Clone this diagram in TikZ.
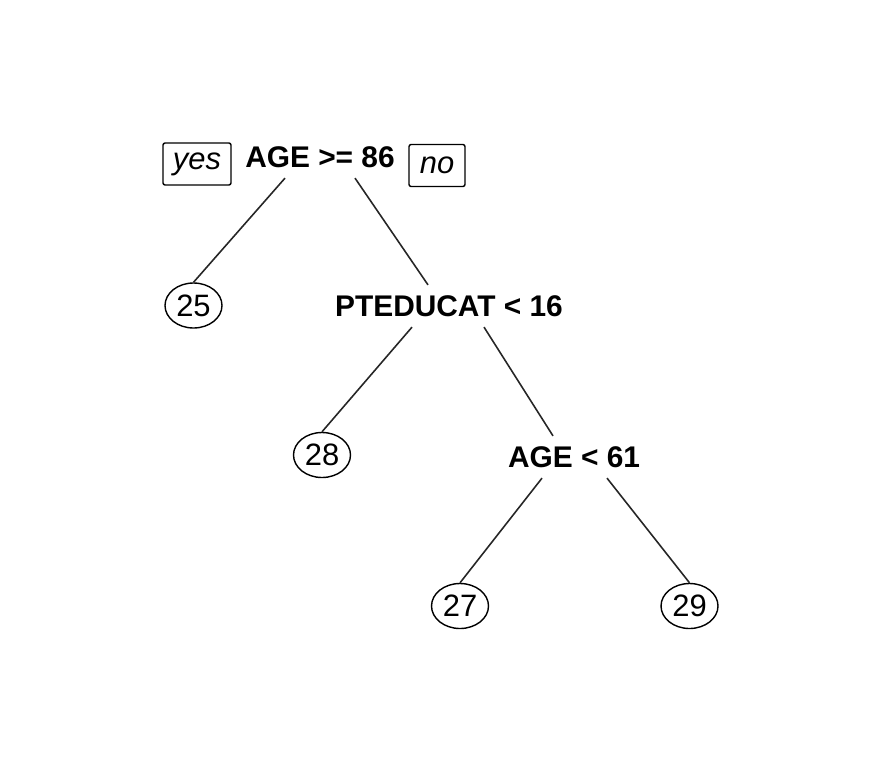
\documentclass[tikz,border=0pt]{standalone}
\usepackage{fontspec}
\setmainfont{Liberation Sans}
\usetikzlibrary{shapes.geometric}
\tikzset{
  split/.style={font=\fontsize{8.5}{10}\selectfont\bfseries,inner sep=2.8pt},
  leaf/.style={draw,ellipse,minimum width=5.7mm,minimum height=4.5mm,inner sep=0pt,
    font=\fontsize{8.8}{10}\selectfont},
  tag/.style={draw,rounded corners=0.6pt,minimum width=6.8mm,minimum height=4.2mm,
    inner sep=0pt,font=\fontsize{8.8}{10}\selectfont\itshape},
  edge/.style={line width=0.45pt,black!85}
}
\begin{document}
\begin{tikzpicture}[x=1cm,y=1cm]
\useasboundingbox (0,0) rectangle (8.84,-7.62);
\node[split] (root) at (3.20,-1.57) {AGE >= 86};
\node[tag] (yes) at (1.97,-1.64) {yes};
\node[tag,minimum width=5.6mm] (no) at (4.37,-1.655) {no};
\node[leaf] (l25) at (1.935,-3.055) {25};
\node[split] (educ) at (4.49,-3.06) {PTEDUCAT < 16};
\node[leaf] (l28) at (3.22,-4.55) {28};
\node[split] (age) at (5.74,-4.57) {AGE < 61};
\node[leaf] (l27) at (4.60,-6.06) {27};
\node[leaf] (l29) at (6.895,-6.06) {29};
\draw[edge] ([xshift=-3.5mm]root.south)--(l25.north);
\draw[edge] ([xshift=3.5mm]root.south)--([xshift=-2.1mm]educ.north);
\draw[edge] ([xshift=-3.7mm]educ.south)--(l28.north);
\draw[edge] ([xshift=3.5mm]educ.south)--([xshift=-2.1mm]age.north);
\draw[edge] ([xshift=-3.2mm]age.south)--(l27.north);
\draw[edge] ([xshift=3.3mm]age.south)--(l29.north);
\end{tikzpicture}
\end{document}
